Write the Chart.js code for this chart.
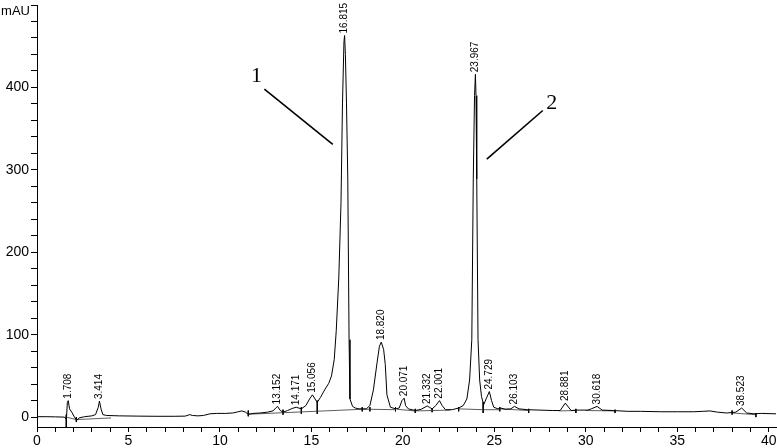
<!DOCTYPE html>
<html>
<head>
<meta charset="utf-8">
<script src="https://cdn.jsdelivr.net/npm/chart.js@4.4.1/dist/chart.umd.min.js"></script>
<style>
  html, body { margin: 0; padding: 0; background: #fff; }
  #wrap { width: 777px; height: 448px; }
</style>
</head>
<body>
<div id="wrap"><canvas id="chrom" width="777" height="448"></canvas></div>
<script>
// ── Data ───────────────────────────────────────────────────────
const traceT = [0, 0.5, 1.0, 1.5, 1.57, 1.62, 1.66, 1.708, 1.78, 1.9, 2.05, 2.17, 2.3, 2.6, 3.0, 3.2, 3.35, 3.414, 3.5, 3.6, 3.8, 4.5, 5.5, 6.5, 7.5, 8.1, 8.35, 8.5, 8.8, 9.1, 9.45, 9.8, 10.3, 10.7, 11.0, 11.2, 11.4, 11.55, 11.8, 12.2, 12.6, 12.9, 13.05, 13.152, 13.3, 13.45, 13.7, 13.95, 14.171, 14.45, 14.7, 14.9, 15.056, 15.2, 15.32, 15.5, 15.75, 15.95, 16.1, 16.25, 16.36, 16.5, 16.62, 16.7, 16.78, 16.815, 16.86, 16.92, 16.99, 17.06, 17.11, 17.25, 17.4, 17.6, 17.8, 18.0, 18.2, 18.39, 18.59, 18.72, 18.82, 18.95, 19.04, 19.13, 19.32, 19.6, 19.8, 19.95, 20.071, 20.15, 20.3, 20.68, 21.0, 21.332, 21.45, 21.6, 21.8, 22.001, 22.15, 22.33, 22.7, 23.05, 23.3, 23.5, 23.65, 23.77, 23.85, 23.92, 23.967, 24.0, 24.04, 24.11, 24.2, 24.3, 24.42, 24.55, 24.729, 24.85, 24.97, 25.2, 25.35, 25.6, 25.9, 26.103, 26.35, 26.8, 27.5, 28.2, 28.6, 28.881, 29.2, 29.5, 30.1, 30.3, 30.618, 30.9, 31.5, 32.3, 33.0, 34.1, 35.0, 35.9, 36.4, 36.8, 37.2, 37.7, 38.2, 38.523, 38.8, 39.2, 39.6, 40.4];
const traceV = [0.5, 0.5, 0.3, 0, -2, 2, 18, 20, 10, 6, 0, -4, -1, 0.5, 1.5, 3, 12, 19.5, 10, 3, 2, 1.5, 1.2, 1, 1, 1.2, 3, 2, 1.5, 2, 4, 4.5, 4.5, 5, 6.5, 7.5, 6, 3.5, 4.5, 5, 6, 7.5, 11, 13, 8, 6, 8, 10.5, 12, 10, 14, 22, 27, 22, 18, 24, 34, 41, 50, 70, 105, 170, 260, 380, 455, 463, 440, 380, 289, 94, 22, 13, 11, 10, 10, 10, 14, 33, 66, 86, 91, 82, 64, 27, 12, 10, 11, 20, 23, 14, 10, 8, 9.5, 13.5, 12, 10, 14, 20, 14, 9, 9, 11, 14, 22, 45, 94, 289, 390, 416, 390, 289, 94, 45, 25, 15, 22, 31, 20, 12, 10, 11, 9.5, 10, 13, 10, 9, 8.5, 8, 8, 17, 8, 8.5, 8.5, 10, 13, 8.5, 8, 7, 7, 6.5, 6.5, 6.5, 7, 7.5, 6, 5, 6, 11, 5, 4, 4.5, 4];

// labelled peaks: retention time + apex height (mAU)
const peakTimes   = [1.708, 3.414, 13.152, 14.171, 15.056, 16.815, 18.820, 20.071, 21.332, 22.001, 23.967, 24.729, 26.103, 28.881, 30.618, 38.523];
const peakHeights = [20, 19.5, 13, 12, 27, 463, 91, 23, 13.5, 20, 416, 31, 13, 17, 13, 11];

// integration baselines [[t0, v0], [t1, v1]]
const baselineSegs = [
  [[1.6, 0], [2.15, -3]],
  [[2.15, -3], [4.05, -1]],
  [[11.55, 3.5], [17.78, 9.5]],
  [[17.78, 9.5], [18.2, 9.5]],
  [[18.2, 9.5], [19.6, 9]],
  [[19.68, 9.5], [20.68, 7.5]],
  [[20.68, 7.5], [22.6, 8.5]],
  [[23.05, 10], [24.39, 9]],
  [[24.39, 9], [25.3, 9]],
  [[25.3, 10], [26.88, 8]],
  [[28.55, 7.5], [29.46, 8]],
  [[30.0, 8], [31.6, 7.5]],
  [[38.0, 5], [39.3, 3]]
];

// peak start/stop markers [t, top, bottom]
const markers = [
  [1.6, 3, -16], [2.15, 0, -6], [11.55, 8, 1], [13.45, 9, 3], [14.45, 12, 4],
  [15.32, 20, 4], [17.78, 12, 7], [18.2, 12, 7], [19.6, 12, 7], [20.68, 10, 5],
  [21.6, 11, 6], [23.05, 12, 7], [24.39, 18, 5], [25.3, 12, 7], [26.88, 10, 5],
  [29.46, 10, 5], [31.6, 9, 5], [38.0, 8, 3], [39.3, 5, 0]
];

// axis tick labels
const xMajor = [0, 5, 10, 15, 20, 25, 30, 35, 40];
const yMajor = [0, 100, 200, 300, 400];

// hand-drawn callouts (data units)
const callouts = [
  { text: '1', at: [12.0, 413], from: [12.43, 398], to: [16.17, 331] },
  { text: '2', at: [28.14, 381], from: [27.65, 372], to: [24.59, 313] }
];


// ── Build datasets ─────────────────────────────────────────────
const tracePts = traceT.map((t, i) => ({ x: t, y: traceV[i] }));

const basePts = [];
baselineSegs.forEach(s => {
  basePts.push({ x: s[0][0], y: s[0][1] }, { x: s[1][0], y: s[1][1] }, { x: s[1][0], y: null });
});

const markPts = [];
markers.forEach(m => {
  markPts.push({ x: m[0], y: m[1] }, { x: m[0], y: m[2] }, { x: m[0], y: null });
});


// ── Text overlays: peak labels, mAU, callouts ──────────────────
const overlay = {
  id: 'overlay',
  afterDatasetsDraw(chart) {
    const { ctx, scales: { x, y } } = chart;
    ctx.save();
    ctx.fillStyle = '#000';

    // rotated retention times
    ctx.font = '10px "Liberation Sans", Arial, sans-serif';
    ctx.textAlign = 'left';
    ctx.textBaseline = 'middle';
    peakTimes.forEach((t, i) => {
      ctx.save();
      ctx.translate(x.getPixelForValue(t), y.getPixelForValue(peakHeights[i]) - 2);
      ctx.rotate(-Math.PI / 2);
      ctx.fillText(t.toFixed(3), 0, 0);
      ctx.restore();
    });

    // unit label
    ctx.font = '13px "Liberation Sans", Arial, sans-serif';
    ctx.textAlign = 'right';
    ctx.fillText('mAU', x.left - 7, y.top + 6);

    // callouts
    ctx.font = '22px "Liberation Serif", "Times New Roman", serif';
    ctx.textAlign = 'center';
    ctx.lineWidth = 1.6;
    ctx.strokeStyle = '#000';
    callouts.forEach(c => {
      ctx.fillText(c.text, x.getPixelForValue(c.at[0]), y.getPixelForValue(c.at[1]));
      ctx.beginPath();
      ctx.moveTo(x.getPixelForValue(c.from[0]), y.getPixelForValue(c.from[1]));
      ctx.lineTo(x.getPixelForValue(c.to[0]), y.getPixelForValue(c.to[1]));
      ctx.stroke();
    });
    ctx.restore();
  }
};


// ── Chart ──────────────────────────────────────────────────────
const tickFont = { family: '"Liberation Sans", Arial, sans-serif', size: 14 };

new Chart(document.getElementById('chrom').getContext('2d'), {
  type: 'line',
  data: {
    datasets: [
      { data: tracePts, borderColor: '#000', borderWidth: 1 },
      { data: basePts, borderColor: '#333', borderWidth: 0.8, spanGaps: false },
      { data: markPts, borderColor: '#000', borderWidth: 1, spanGaps: false }
    ]
  },
  options: {
    responsive: false,
    animation: false,
    devicePixelRatio: 1,
    layout: { padding: { top: 5, right: 1, left: 0, bottom: 0 } },
    elements: { point: { radius: 0 }, line: { tension: 0 } },
    plugins: { legend: { display: false }, tooltip: { enabled: false } },
    scales: {
      x: {
        type: 'linear',
        min: 0,
        max: 40.4,
        afterBuildTicks: s => {
          s.ticks = [];
          for (let i = 0; i <= 40; i++) s.ticks.push({ value: i });
        },
        afterFit: s => { s.height = 21; s.paddingLeft = 0; s.paddingRight = 0; },
        ticks: {
          autoSkip: false,
          maxRotation: 0,
          padding: 1,
          color: '#000',
          font: tickFont,
          callback: v => xMajor.includes(v) ? String(v) : ''
        },
        grid: { drawOnChartArea: false, tickLength: 5, color: '#000' },
        border: { color: '#000', width: 1 }
      },
      y: {
        type: 'linear',
        min: -12,
        max: 500,
        afterBuildTicks: s => {
          s.ticks = [];
          for (let v = 0; v <= 500; v += 20) s.ticks.push({ value: v });
        },
        afterFit: s => { s.width = 37; s.paddingTop = 0; s.paddingBottom = 0; },
        ticks: {
          autoSkip: false,
          padding: 2,
          color: '#000',
          font: tickFont,
          callback: v => yMajor.includes(v) ? String(v) : ''
        },
        grid: { drawOnChartArea: false, tickLength: 6, color: '#000' },
        border: { color: '#000', width: 1 }
      }
    }
  },
  plugins: [overlay]
});
</script>
</body>
</html>
